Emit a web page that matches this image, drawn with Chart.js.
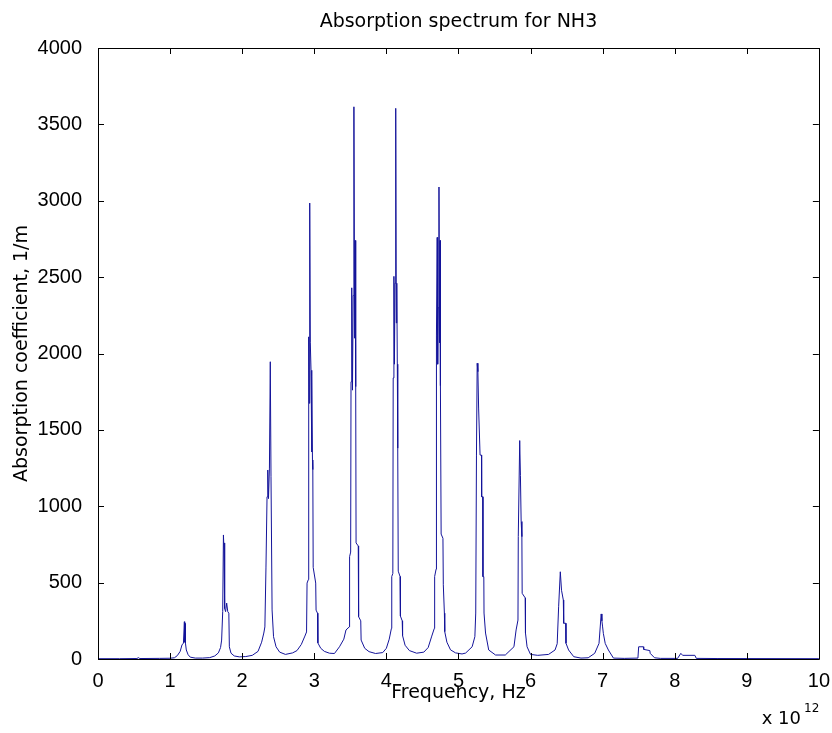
<!DOCTYPE html>
<html>
<head>
<meta charset="utf-8">
<title>Absorption spectrum for NH3</title>
<script src="https://cdn.jsdelivr.net/npm/chart.js@4.4.1/dist/chart.umd.min.js"></script>
<style>
  html, body { margin: 0; padding: 0; background: #fff; }
  #wrap { width: 832px; height: 733px; }
</style>
</head>
<body>
<div id="wrap"><canvas id="spectrum" width="832" height="733"></canvas></div>
<script>
// frequency in units of 1e12 Hz
const freq = [
  0.00, 0.30, 0.54, 0.56, 0.58, 0.85, 1.00, 1.06, 1.10, 1.14, 1.165, 1.185, 1.198, 1.203, 1.208, 1.213, 1.225, 1.25, 1.28, 1.35, 1.45,
  1.55, 1.62, 1.67, 1.70, 1.715, 1.73, 1.74, 1.748, 1.754, 1.76, 1.77, 1.785, 1.80, 1.815, 1.822, 1.845, 1.89, 1.96,
  2.05, 2.14, 2.22, 2.27, 2.30, 2.315, 2.33, 2.345, 2.355, 2.365, 2.378, 2.39, 2.40, 2.415, 2.435, 2.47, 2.52, 2.60,
  2.70, 2.76, 2.82, 2.87, 2.893, 2.90, 2.918, 2.923, 2.93, 2.937, 2.945, 2.955, 2.962, 2.968, 2.975, 2.98, 2.985, 3.02, 3.025, 3.045, 3.05, 3.09, 3.14, 3.21,
  3.28, 3.35, 3.41, 3.44, 3.485, 3.49, 3.505, 3.51, 3.52, 3.53, 3.54, 3.55, 3.56, 3.567, 3.575, 3.58, 3.61, 3.615, 3.645, 3.65, 3.70, 3.76, 3.85,
  3.95, 4.00, 4.04, 4.07, 4.075, 4.09, 4.095, 4.105, 4.112, 4.12, 4.13, 4.138, 4.145, 4.152, 4.158, 4.165, 4.19, 4.195, 4.22, 4.225, 4.26, 4.32, 4.42,
  4.52, 4.58, 4.63, 4.665, 4.67, 4.69, 4.695, 4.705, 4.712, 4.72, 4.73, 4.737, 4.745, 4.75, 4.76, 4.785, 4.79, 4.805, 4.81, 4.84, 4.89, 4.96, 5.05,
  5.10, 5.19, 5.228, 5.24, 5.25, 5.26, 5.27, 5.28, 5.30, 5.32, 5.322, 5.338, 5.34, 5.352, 5.355, 5.376, 5.42, 5.515,
  5.65, 5.77, 5.80, 5.826, 5.83, 5.85, 5.86, 5.87, 5.88, 5.884, 5.926, 5.93, 5.952, 6.00,
  6.10, 6.25, 6.34, 6.37, 6.39, 6.413, 6.43, 6.455, 6.46, 6.488, 6.492, 6.528, 6.60, 6.70,
  6.80, 6.89, 6.95, 6.98, 6.99, 7.00, 7.01, 7.036, 7.08, 7.15, 7.30,
  7.49, 7.50, 7.565, 7.57, 7.655, 7.66, 7.72, 7.80,
  8.04, 8.085, 8.11, 8.28, 8.30, 8.60, 10.00
];
// absorption coefficient, 1/m
const absorption = [
  2, 2, 3, 9, 3, 4, 5, 8, 22, 50, 92, 104, 244, 110, 232, 104, 59, 28, 12, 6, 6,
  9, 20, 40, 75, 124, 310, 812, 713, 760, 330, 310, 366, 310, 300, 80, 38, 20, 14,
  16, 24, 50, 110, 170, 210, 596, 1062, 1237, 1050, 1250, 1946, 1193, 321, 146, 80, 45, 30,
  40, 55, 95, 150, 177, 497, 520, 2109, 1674, 2985, 2070, 1890, 1355, 1850, 1303, 1240, 600, 497, 320, 300, 105, 70, 50, 38,
  36, 80, 130, 190, 210, 670, 700, 1815, 2430, 1760, 2380, 3615, 2100, 2740, 1783, 760, 740, 277, 250, 124, 70, 48, 36,
  42, 70, 130, 200, 540, 560, 1840, 2505, 1930, 2460, 3605, 2200, 2460, 1930, 1380, 575, 540, 281, 250, 153, 90, 55, 38,
  45, 75, 150, 200, 540, 588, 2121, 2760, 1930, 2300, 3090, 2070, 2740, 1789, 818, 790, 486, 300, 179, 110, 60, 40, 33,
  39, 80, 146, 301, 1335, 1936, 1881, 1643, 1335, 1335, 1062, 1062, 539, 539, 301, 170, 59, 26,
  26, 80, 190, 255, 801, 1430, 1200, 900, 801, 430, 400, 170, 80, 30,
  24, 30, 59, 100, 342, 571, 450, 386, 234, 234, 103, 59, 15, 6,
  8, 37, 102, 295, 250, 210, 168, 102, 59, 6, 4,
  6, 80, 80, 63, 55, 37, 8, 4,
  4, 37, 24, 24, 4, 3, 2
];

const xTicks = [0, 1, 2, 3, 4, 5, 6, 7, 8, 9, 10];
const yTicks = [0, 500, 1000, 1500, 2000, 2500, 3000, 3500, 4000];

const chartTitle = 'Absorption spectrum for NH3';
const xLabel = 'Frequency, Hz';
const yLabel = 'Absorption coefficient, 1/m';
const xExponent = '12';

const points = freq.map((f, i) => ({ x: f, y: absorption[i] }));

// matlab style box with ticks pointing inward on all four sides,
// title centred over the axes, and the x 10^12 multiplier
const matlabAxes = {
  id: 'matlabAxes',
  afterDraw(chart) {
    const { ctx, chartArea: a, scales: { x, y } } = chart;
    const len = 6;
    ctx.save();
    ctx.strokeStyle = '#000';
    ctx.lineWidth = 1;
    ctx.beginPath();
    ctx.rect(Math.round(a.left) + 0.5, Math.round(a.top) + 0.5,
      Math.round(a.right - a.left), Math.round(a.bottom - a.top));
    xTicks.forEach(v => {
      const px = Math.round(x.getPixelForValue(v)) + 0.5;
      ctx.moveTo(px, a.bottom);
      ctx.lineTo(px, a.bottom - len);
      ctx.moveTo(px, a.top);
      ctx.lineTo(px, a.top + len);
    });
    yTicks.forEach(v => {
      const py = Math.round(y.getPixelForValue(v)) + 0.5;
      ctx.moveTo(a.left, py);
      ctx.lineTo(a.left + len, py);
      ctx.moveTo(a.right, py);
      ctx.lineTo(a.right - len, py);
    });
    ctx.stroke();

    ctx.fillStyle = '#000';
    ctx.textBaseline = 'middle';
    ctx.textAlign = 'center';
    ctx.font = '19px "DejaVu Sans"';
    ctx.fillText(chartTitle, (a.left + a.right) / 2, 22);

    ctx.textAlign = 'right';
    ctx.font = '18px "DejaVu Sans"';
    ctx.fillText('x 10', 801, 719);
    ctx.textAlign = 'left';
    ctx.font = '12px "DejaVu Sans"';
    ctx.fillText(xExponent, 804, 709);
    ctx.restore();
  }
};

new Chart(document.getElementById('spectrum'), {
  type: 'scatter',
  data: {
    datasets: [{
      data: points,
      showLine: true,
      borderColor: '#14149a',
      borderWidth: 1,
      pointRadius: 0,
      tension: 0
    }]
  },
  options: {
    responsive: false,
    animation: false,
    devicePixelRatio: 1,
    layout: { padding: { left: 0, right: 11, top: 48, bottom: 0 } },
    plugins: {
      legend: { display: false },
      tooltip: { enabled: false },
      title: { display: false }
    },
    scales: {
      x: {
        type: 'linear',
        min: 0,
        max: 10,
        afterFit: s => { s.height = 74; },
        afterBuildTicks: s => { s.ticks = xTicks.map(v => ({ value: v })); },
        grid: { display: false },
        border: { display: false },
        ticks: {
          color: '#000',
          padding: 2,
          maxRotation: 0,
          callback: v => String(v),
          font: { family: 'Liberation Sans', size: 20 }
        },
        title: {
          display: true,
          text: xLabel,
          color: '#000',
          font: { family: 'DejaVu Sans', size: 19 },
          padding: { top: 0, bottom: 29 }
        }
      },
      y: {
        type: 'linear',
        min: 0,
        max: 4000,
        afterFit: s => { s.width = 98; },
        afterBuildTicks: s => { s.ticks = yTicks.map(v => ({ value: v })); },
        grid: { display: false },
        border: { display: false },
        ticks: {
          color: '#000',
          padding: 8,
          callback: v => String(v),
          font: { family: 'Liberation Sans', size: 20 }
        },
        title: {
          display: true,
          text: yLabel,
          color: '#000',
          font: { family: 'DejaVu Sans', size: 19 },
          padding: { top: 11, bottom: 0 }
        }
      }
    }
  },
  plugins: [matlabAxes]
});
</script>
</body>
</html>
